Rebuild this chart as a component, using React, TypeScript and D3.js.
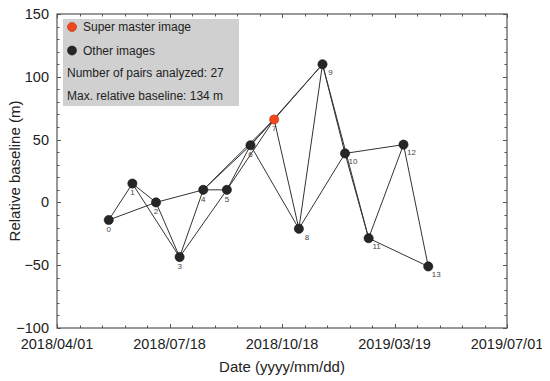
import React, { useEffect, useRef } from 'react';
import * as d3 from 'd3';

// axis ticks (evenly spaced in the original figure)
const xTickLabels = ['2018/04/01', '2018/07/18', '2018/10/18', '2019/03/19', '2019/07/01'];
const yTicks = [-100, -50, 0, 50, 100, 150];

// image positions along the date axis (in tick units) and relative baselines (m)
const imageIds = [0, 1, 2, 3, 4, 5, 6, 7, 8, 9, 10, 11, 12, 13];
const imageX = [0.46, 0.67, 0.88, 1.09, 1.3, 1.51, 1.72, 1.93, 2.15, 2.36, 2.56, 2.77, 3.08, 3.3];
const baselines = [-14, 15, 0, -43.5, 10, 10, 45.5, 66, -21, 110, 39, -28.5, 46, -51];
const superMaster = 7;

// interferometric pairs
const pairs = [
  [0, 1], [0, 2], [1, 2], [1, 3], [2, 3], [2, 4], [3, 4], [3, 5], [4, 5],
  [4, 6], [4, 7], [5, 6], [5, 7], [6, 7], [6, 8], [6, 9], [7, 8], [7, 9],
  [8, 9], [8, 10], [9, 10], [9, 11], [10, 11], [10, 12], [11, 12], [11, 13], [12, 13],
];

const legendItems = ['Super master image', 'Other images'];
const legendNotes = ['Number of pairs analyzed: 27', 'Max. relative baseline: 134 m'];

const BaselineChart = () => {
  const svgRef = useRef(null);

  useEffect(() => {
    const width = 550;
    const height = 381;
    const margin = { top: 14, right: 43, bottom: 53, left: 57 };
    const font = '"Liberation Sans", Arial, sans-serif';

    const svg = d3.select(svgRef.current)
      .attr('width', width)
      .attr('height', height)
      .style('font-family', font);
    svg.selectAll('*').remove();

    const x = d3.scaleLinear()
      .domain([0, xTickLabels.length - 1])
      .range([margin.left, width - margin.right]);

    const y = d3.scaleLinear()
      .domain([-100, 150])
      .range([height - margin.bottom, margin.top]);

    const frame = '#555';

    // ticks on all sides, pointing inwards
    const xMinor = d3.range(0, xTickLabels.length - 1 + 0.001, 0.2);
    const yMinor = d3.range(-100, 150.001, 10);
    const isMajorX = v => Math.abs(v - Math.round(v)) < 1e-6;
    const isMajorY = v => v % 50 === 0;

    const ticks = svg.append('g').attr('stroke', frame).attr('stroke-width', 1);
    xMinor.forEach(v => {
      const len = isMajorX(v) ? 4 : 2.5;
      const px = Math.round(x(v)) + 0.5;
      ticks.append('line').attr('x1', px).attr('x2', px)
        .attr('y1', y(-100)).attr('y2', y(-100) - len);
      ticks.append('line').attr('x1', px).attr('x2', px)
        .attr('y1', y(150)).attr('y2', y(150) + len);
    });
    yMinor.forEach(v => {
      const len = isMajorY(v) ? 4 : 2.5;
      const py = Math.round(y(v)) + 0.5;
      ticks.append('line').attr('y1', py).attr('y2', py)
        .attr('x1', x(0)).attr('x2', x(0) + len);
      ticks.append('line').attr('y1', py).attr('y2', py)
        .attr('x1', x(4)).attr('x2', x(4) - len);
    });

    svg.append('rect')
      .attr('x', x(0))
      .attr('y', y(150))
      .attr('width', x(4) - x(0))
      .attr('height', y(-100) - y(150))
      .attr('fill', 'none')
      .attr('stroke', frame)
      .attr('stroke-width', 1.2);

    // tick labels
    svg.append('g').selectAll('text')
      .data(yTicks)
      .enter().append('text')
      .attr('x', x(0) - 8)
      .attr('y', d => y(d))
      .attr('dy', '0.35em')
      .attr('text-anchor', 'end')
      .attr('font-size', 14.5)
      .attr('fill', '#222')
      .text(d => (d < 0 ? '\u2212' + Math.abs(d) : d));

    svg.append('g').selectAll('text')
      .data(xTickLabels)
      .enter().append('text')
      .attr('x', (d, i) => x(i))
      .attr('y', y(-100) + 21)
      .attr('text-anchor', 'middle')
      .attr('font-size', 14.5)
      .attr('fill', '#222')
      .text(d => d);

    // axis titles
    svg.append('text')
      .attr('x', (x(0) + x(4)) / 2)
      .attr('y', height - 9)
      .attr('text-anchor', 'middle')
      .attr('font-size', 15)
      .attr('fill', '#222')
      .text('Date (yyyy/mm/dd)');

    svg.append('text')
      .attr('transform', 'rotate(-90)')
      .attr('x', -(y(150) + y(-100)) / 2)
      .attr('y', 20)
      .attr('text-anchor', 'middle')
      .attr('font-size', 15)
      .attr('fill', '#222')
      .text('Relative baseline (m)');

    // legend box
    const legend = svg.append('g');
    legend.append('rect')
      .attr('x', 63).attr('y', 19)
      .attr('width', 176).attr('height', 87)
      .attr('fill', '#d0d0d0');
    legendItems.forEach((label, i) => {
      legend.append('circle')
        .attr('cx', 72).attr('cy', 27 + i * 23.5)
        .attr('r', 4.5)
        .attr('fill', i === 0 ? '#f2461c' : '#262626')
        .attr('stroke', i === 0 ? '#b03010' : '#111')
        .attr('stroke-width', 0.6);
      legend.append('text')
        .attr('x', 83).attr('y', 27 + i * 23.5)
        .attr('dy', '0.35em')
        .attr('font-size', 12)
        .attr('fill', '#222')
        .text(label);
    });
    legendNotes.forEach((label, i) => {
      legend.append('text')
        .attr('x', 67).attr('y', 73 + i * 23)
        .attr('dy', '0.35em')
        .attr('font-size', 12)
        .attr('fill', '#222')
        .text(label);
    });

    // pair connections
    svg.append('g').selectAll('line')
      .data(pairs)
      .enter().append('line')
      .attr('x1', d => x(imageX[d[0]]))
      .attr('y1', d => y(baselines[d[0]]))
      .attr('x2', d => x(imageX[d[1]]))
      .attr('y2', d => y(baselines[d[1]]))
      .attr('stroke', '#333')
      .attr('stroke-width', 1);

    // image labels
    svg.append('g').selectAll('text')
      .data(imageIds)
      .enter().append('text')
      .attr('x', d => x(imageX[d]) + (d < 8 ? 0 : 8))
      .attr('y', d => y(baselines[d]) + (d < 8 ? 9 : 8))
      .attr('dy', '0.35em')
      .attr('text-anchor', 'middle')
      .attr('font-size', 8)
      .attr('fill', '#444')
      .text(d => d);

    // images
    svg.append('g').selectAll('circle')
      .data(imageIds)
      .enter().append('circle')
      .attr('cx', d => x(imageX[d]))
      .attr('cy', d => y(baselines[d]))
      .attr('r', 4.6)
      .attr('fill', d => (d === superMaster ? '#f2461c' : '#262626'))
      .attr('stroke', d => (d === superMaster ? '#b03010' : '#111'))
      .attr('stroke-width', 0.6);
  }, []);

  return <svg ref={svgRef}></svg>;
};

export default function App() {
  return (
    <div style={{ margin: -8 }}>
      <BaselineChart />
    </div>
  );
}
